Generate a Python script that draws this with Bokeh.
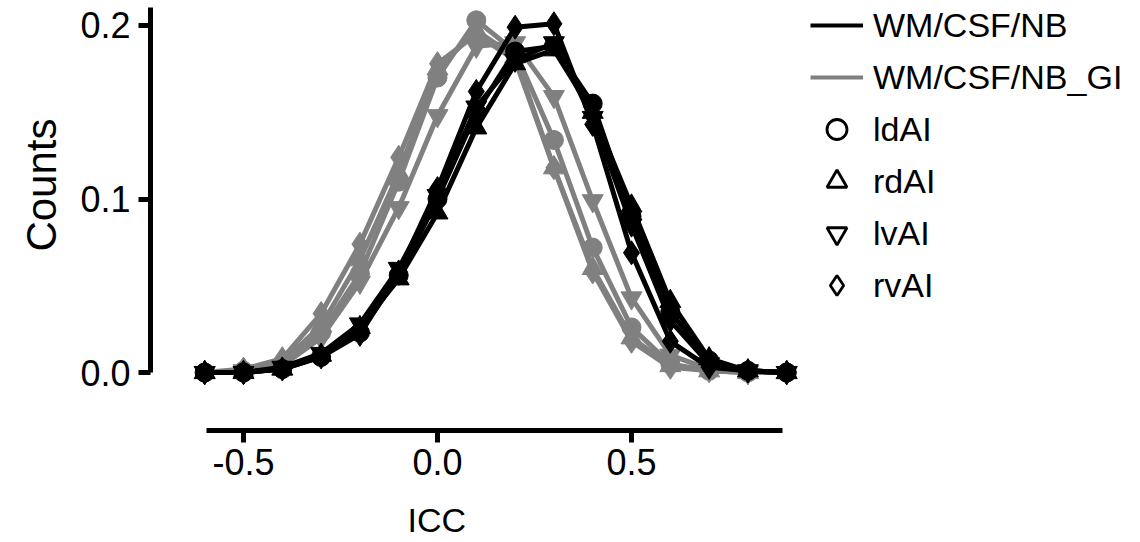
from bokeh.plotting import figure
from bokeh.models import Legend, LegendItem, FixedTicker, NumeralTickFormatter, Range1d, Title
from bokeh.embed import file_html
from bokeh.resources import INLINE

# ---------------- data ----------------
icc = [-0.6, -0.5, -0.4, -0.3, -0.2, -0.1, 0.0, 0.1, 0.2, 0.3, 0.4, 0.5, 0.6, 0.7, 0.8, 0.9]

# WM/CSF/NB (black)
nb_ldAI = [0.0, 0.0, 0.002, 0.009, 0.023, 0.056, 0.100, 0.150, 0.185, 0.188, 0.155, 0.090, 0.035, 0.007, 0.001, 0.0]
nb_rdAI = [0.0, 0.0, 0.002, 0.010, 0.026, 0.054, 0.092, 0.141, 0.178, 0.186, 0.150, 0.096, 0.041, 0.008, 0.001, 0.0]
nb_lvAI = [0.0, 0.0, 0.003, 0.011, 0.028, 0.060, 0.102, 0.153, 0.180, 0.190, 0.147, 0.085, 0.030, 0.005, 0.001, 0.0]
nb_rvAI = [0.0, 0.0, 0.002, 0.009, 0.022, 0.058, 0.106, 0.162, 0.199, 0.201, 0.143, 0.069, 0.018, 0.003, 0.001, 0.0]

# WM/CSF/NB_GI (gray)
gi_ldAI = [0.0, 0.001, 0.005, 0.023, 0.057, 0.110, 0.170, 0.203, 0.185, 0.134, 0.072, 0.026, 0.005, 0.001, 0.0, 0.0]
gi_rdAI = [0.0, 0.001, 0.006, 0.027, 0.065, 0.115, 0.175, 0.197, 0.182, 0.118, 0.060, 0.020, 0.004, 0.001, 0.0, 0.0]
gi_lvAI = [0.0, 0.001, 0.004, 0.020, 0.052, 0.095, 0.148, 0.188, 0.190, 0.159, 0.099, 0.043, 0.010, 0.002, 0.0, 0.0]
gi_rvAI = [0.0, 0.002, 0.008, 0.034, 0.074, 0.124, 0.178, 0.195, 0.180, 0.118, 0.058, 0.018, 0.003, 0.001, 0.0, 0.0]

group_names = ["WM/CSF/NB", "WM/CSF/NB_GI"]
region_names = ["ldAI", "rdAI", "lvAI", "rvAI"]
x_ticks = [-0.5, 0.0, 0.5]
y_ticks = [0.0, 0.1, 0.2]
x_label = "ICC"
y_label = "Counts"

# ---------------- styling ----------------
FONT = "Liberation Sans"
BLACK = "#000000"
GRAY = "#808080"
markers = ["circle", "triangle", "inverted_triangle", "diamond"]
msizes = [19, 21, 21, 24]
NAN = float("nan")

p = figure(frame_width=660, frame_height=430, output_backend="svg", toolbar_location=None,
           x_range=Range1d(-0.7397, 0.9613), y_range=Range1d(-0.0334, 0.2144),
           min_border_left=150, min_border_right=0, min_border_top=0, min_border_bottom=90)
p.outline_line_color = None
p.xgrid.visible = False
p.ygrid.visible = False
p.background_fill_color = "white"
p.border_fill_color = "white"

series = {
    GRAY: [gi_ldAI, gi_rdAI, gi_lvAI, gi_rvAI],
    BLACK: [nb_ldAI, nb_rdAI, nb_lvAI, nb_rvAI],
}
for color in [GRAY, BLACK]:
    for vals, mk, ms in zip(series[color], markers, msizes):
        p.line(icc, vals, line_color=color, line_width=5)
        p.scatter(icc, vals, marker=mk, size=ms, fill_color=color, line_color=color, line_width=1)

# legend proxies (NaN data: nothing drawn in the plot area)
r_nb = p.line([NAN], [NAN], line_color=BLACK, line_width=4)
r_gi = p.line([NAN], [NAN], line_color=GRAY, line_width=4)
proxies = []
for mk in markers:
    proxies.append(p.scatter([NAN], [NAN], marker=mk, fill_color="white",
                             line_color=BLACK, line_width=2.8))

items = [LegendItem(label=group_names[0], renderers=[r_nb]),
         LegendItem(label=group_names[1], renderers=[r_gi])]
for name, r in zip(region_names, proxies):
    items.append(LegendItem(label=name, renderers=[r]))

legend = Legend(items=items, location="top_left", padding=0, margin=0,
                glyph_width=53, glyph_height=50, label_height=30, spacing=2,
                label_standoff=10, border_line_color=None, background_fill_alpha=0,
                label_text_font=FONT, label_text_font_size="34px", label_text_color=BLACK)
p.add_layout(legend, "right")

# axes
for ax in (p.xaxis, p.yaxis):
    ax.axis_line_width = 5
    ax.axis_line_color = BLACK
    ax.major_tick_line_width = 5
    ax.major_tick_line_color = BLACK
    ax.major_tick_in = 0
    ax.major_tick_out = 12
    ax.minor_tick_line_color = None
    ax.major_label_text_font = FONT
    ax.major_label_text_font_size = "36px"
    ax.major_label_text_color = BLACK
    ax.formatter = NumeralTickFormatter(format="0.0")

p.xaxis.ticker = FixedTicker(ticks=x_ticks)
p.yaxis.ticker = FixedTicker(ticks=y_ticks)
p.xaxis.bounds = (-0.595, 0.89)
p.yaxis.bounds = (0.0, 0.2104)
p.xaxis.major_label_standoff = 6
p.yaxis.major_label_standoff = 8

# axis titles as side titles so they can be positioned like the reference
t_y = Title(text=y_label, align="right", offset=118, standoff=26,
            text_font=FONT, text_font_size="42px", text_font_style="normal", text_color=BLACK)
p.add_layout(t_y, "left")
t_x = Title(text=x_label, align="left", offset=257, standoff=42,
            text_font=FONT, text_font_size="34px", text_font_style="normal", text_color=BLACK)
p.add_layout(t_x, "below")

open("out.html", "w").write(file_html(p, INLINE))
